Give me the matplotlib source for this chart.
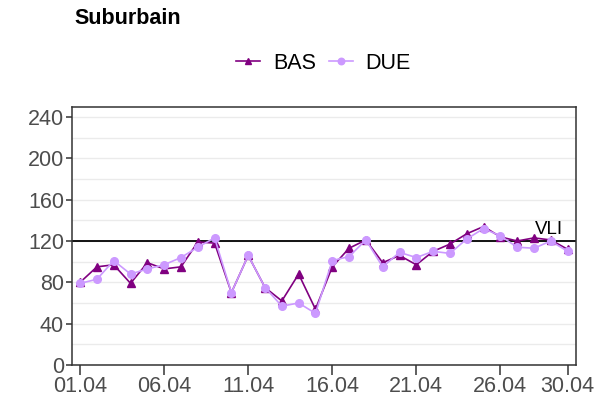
import matplotlib
matplotlib.use("Agg")
import matplotlib.pyplot as plt
import numpy as np

plt.rcParams['font.family'] = ['Liberation Sans', 'DejaVu Sans']

# daily values, 1 to 30 April
days = np.arange(1, 31)
bas = [80, 95, 97, 79, 99, 93, 95, 119, 118, 70,
       106, 75, 62, 88, 54, 95, 113, 121, 99, 106,
       97, 110, 117, 127, 134, 124, 120, 123, 121, 112]
due = [79, 83, 101, 88, 93, 97, 104, 114, 123, 70,
       106, 75, 57, 60, 50, 101, 105, 121, 95, 109,
       104, 110, 108, 122, 132, 125, 114, 113, 120, 110]

tick_days = [1, 6, 11, 16, 21, 26, 30]
tick_labels = ["01.04", "06.04", "11.04", "16.04", "21.04", "26.04", "30.04"]
vli = 120

c_bas = "#800080"
c_due = "#CC99FF"

fig = plt.figure(figsize=(6.15, 4.04), dpi=100)
ax = fig.add_axes([0.1166, 0.0965, 0.82, 0.6395])

ax.plot(days, bas, color=c_bas, lw=1.2, marker="^", ms=5.5, label="BAS", zorder=3)
ax.plot(days, due, color=c_due, lw=1.2, marker="o", ms=5.5, label="DUE", zorder=4)

ax.axhline(vli, color="black", lw=1.3, zorder=2)
ax.text(28.9, vli + 2.5, "VLI", fontsize=13.5, ha="center", va="bottom")

ax.set_xlim(0.5, 30.5)
ax.set_ylim(0, 250)
ax.set_xticks(tick_days)
ax.set_xticklabels(tick_labels)
ax.set_yticks(np.arange(0, 241, 40))
ax.set_yticks(np.arange(20, 241, 40), minor=True)
ax.grid(axis="y", which="both", color="#EBEBEB", lw=1.0, zorder=0)
ax.set_axisbelow(True)

for s in ax.spines.values():
    s.set_color("#333333")
    s.set_linewidth(1.1)
ax.tick_params(axis="y", which="major", length=4.5, width=1.1, color="#333333",
               labelsize=15.5, labelcolor="#4D4D4D", pad=1)
ax.tick_params(axis="y", which="minor", length=0)
ax.tick_params(axis="x", length=7, width=1.1, color="#333333",
               labelsize=15.5, labelcolor="#4D4D4D", pad=1)

fig.text(0.121, 0.953, "Suburbain", fontsize=15.5, fontweight="bold", va="center")

fig.legend(loc="center", bbox_to_anchor=(0.526, 0.843), ncol=2, frameon=False,
           fontsize=15.5, handlelength=1.1, handletextpad=0.6, columnspacing=0.6,
           markerscale=0.85)

fig.savefig("out.png", dpi=100)
